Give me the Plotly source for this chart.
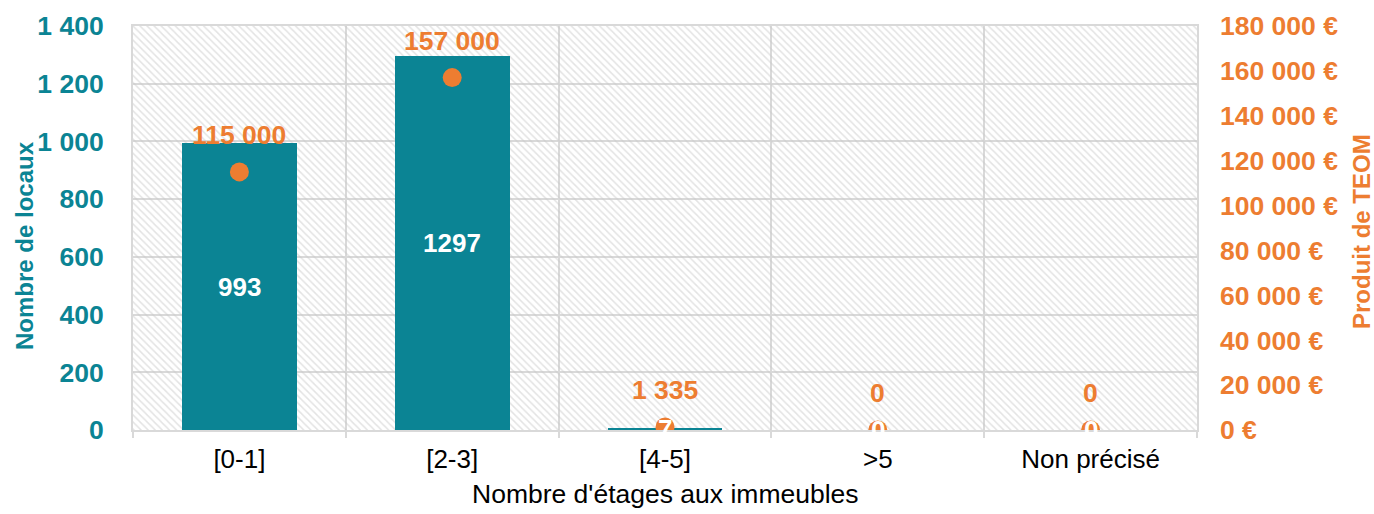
import plotly.graph_objects as go

categories = ["[0-1]", "[2-3]", "[4-5]", ">5", "Non précisé"]
nb_locaux = [993, 1297, 7, 0, 0]
produit_teom = [115000, 157000, 1335, 0, 0]
bar_labels = ["993", "1297", "7", "0", "0"]
teom_labels = ["115 000", "157 000", "1 335", "0", "0"]

TEAL = "#0B8494"
ORANGE = "#ED7D31"
GRID = "#d9d9d9"
FONT = "Liberation Sans, Arial, sans-serif"
LEFT_MAX = 1400
RIGHT_MAX = 180000

fig = go.Figure()

# hatched background of the plot area
fig.add_trace(go.Bar(
    x=categories, y=[LEFT_MAX] * len(categories), width=1.0,
    marker=dict(color="rgba(0,0,0,0)", line=dict(width=0),
                pattern=dict(shape="\\", fgcolor="#c8c8c8", bgcolor="rgba(0,0,0,0)",
                             size=5, solidity=0.3)),
    hoverinfo="skip", showlegend=False, yaxis="y"))

fig.add_trace(go.Bar(
    x=categories, y=nb_locaux, width=0.54, name="Nombre de locaux",
    marker=dict(color=TEAL, line=dict(width=0)), yaxis="y", showlegend=False))

fig.add_trace(go.Scatter(
    x=categories, y=produit_teom, mode="markers", name="Produit de TEOM",
    marker=dict(color=ORANGE, size=19), yaxis="y2", showlegend=False))

annotations = []
for c, v, t in zip(categories, nb_locaux, bar_labels):
    annotations.append(dict(x=c, y=v / 2, xref="x", yref="y", text=t, showarrow=False,
                            yanchor="middle", font=dict(family=FONT, size=26, color="white", weight="bold")))
for c, v, t in zip(categories, produit_teom, teom_labels):
    annotations.append(dict(x=c, y=v, xref="x", yref="y2", text=t, showarrow=False,
                            yanchor="middle", yshift=37,
                            font=dict(family=FONT, size=26.5, color=ORANGE, weight="bold")))

annotations.append(dict(x=(24 - 133) / 1064, y=(430 - 246) / 404, xref="paper", yref="paper",
                        text="Nombre de locaux", textangle=-90, showarrow=False,
                        xanchor="center", yanchor="middle",
                        font=dict(family=FONT, size=24, color=TEAL, weight="bold")))
annotations.append(dict(x=(1361 - 133) / 1064, y=(430 - 232) / 404, xref="paper", yref="paper",
                        text="Produit de TEOM", textangle=-90, showarrow=False,
                        xanchor="center", yanchor="middle",
                        font=dict(family=FONT, size=24, color=ORANGE, weight="bold")))
annotations.append(dict(x=0.5, y=-(494 - 430) / 404, xref="paper", yref="paper",
                        text="Nombre d'étages aux immeubles", showarrow=False,
                        xanchor="center", yanchor="middle",
                        font=dict(family=FONT, size=26.5, color="#000000")))

fig.update_layout(
    width=1374, height=514,
    margin=dict(l=133, r=177, t=26, b=84),
    paper_bgcolor="white", plot_bgcolor="white",
    barmode="overlay", bargap=0,
    separators=", ",
    font=dict(family=FONT),
    showlegend=False,
    annotations=annotations,
    xaxis=dict(type="category", tickson="boundaries", showgrid=True, gridcolor=GRID, gridwidth=2,
               showline=True, linecolor=GRID, linewidth=2, mirror=True,
               ticks="outside", ticklen=6, tickcolor=GRID, tickwidth=2,
               tickfont=dict(family=FONT, size=26, color="#000000"),
               ticklabelstandoff=5, range=[-0.5, 4.5]),
    yaxis=dict(range=[0, LEFT_MAX], dtick=200, tickformat=",d", showgrid=True, gridcolor=GRID,
               gridwidth=2, showline=True, linecolor=GRID, linewidth=2, mirror=True,
               zeroline=False, ticks="", ticklabelstandoff=22,
               tickfont=dict(family=FONT, size=26.5, color=TEAL, weight="bold")),
    yaxis2=dict(range=[0, RIGHT_MAX], dtick=20000, tickformat=",d", ticksuffix=" €",
                overlaying="y", side="right", showgrid=False, zeroline=False, showline=False,
                ticks="", ticklabelstandoff=22,
                tickfont=dict(family=FONT, size=26.5, color=ORANGE, weight="bold")),
)

fig.write_html("out.html")
